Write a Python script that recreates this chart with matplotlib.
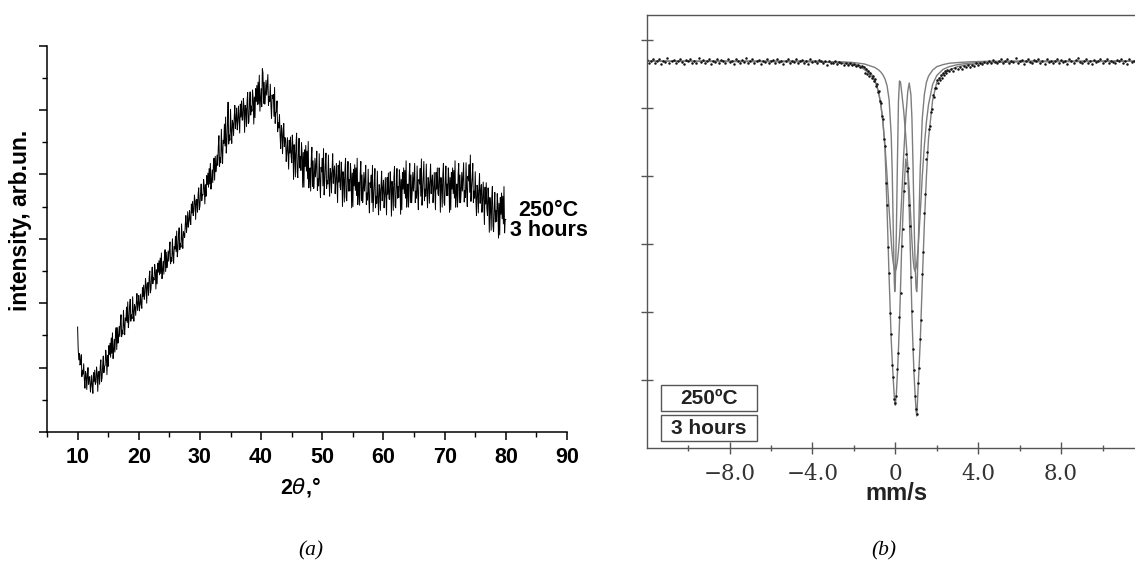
import numpy as np
import matplotlib
matplotlib.use('Agg')
import matplotlib.pyplot as plt
from matplotlib.patches import Rectangle
from matplotlib.ticker import MultipleLocator, FixedLocator

# ---------------- (a) XRD pattern (2theta from 10 to 80, step 0.1) ----------------
two_theta_start = 10.0
two_theta_step = 0.1
xrd_intensity = [
    163, 128, 112, 122, 104, 108, 120, 86, 96, 90,
    106, 82, 68, 94, 90, 66, 86, 100, 74, 84,
    86, 62, 72, 88, 72, 60, 92, 78, 96, 74,
    77, 101, 91, 63, 93, 94, 74, 102, 112, 78,
    84, 104, 118, 92, 102, 103, 127, 117, 89, 119,
    102, 134, 120, 138, 116, 146, 122, 154, 114, 126,
    144, 124, 152, 162, 128, 162, 138, 148, 164, 148,
    170, 182, 148, 158, 152, 189, 165, 151, 177, 173,
    194, 170, 202, 162, 174, 194, 206, 172, 182, 176,
    210, 186, 172, 198, 194, 181, 201, 215, 189, 199,
    212, 188, 198, 214, 198, 192, 224, 210, 228, 206,
    214, 238, 228, 200, 230, 232, 212, 240, 250, 216,
    222, 242, 256, 230, 240, 236, 260, 250, 222, 252,
    230, 262, 248, 266, 244, 270, 246, 278, 238, 250,
    265, 245, 273, 283, 249, 279, 255, 265, 281, 265,
    283, 295, 261, 271, 265, 300, 276, 262, 288, 284,
    304, 280, 312, 272, 284, 305, 317, 283, 293, 287,
    323, 299, 285, 311, 307, 302, 322, 336, 310, 320,
    342, 318, 328, 344, 328, 322, 354, 340, 358, 336,
    344, 368, 358, 330, 360, 361, 341, 369, 379, 345,
    351, 371, 385, 359, 369, 368, 392, 382, 354, 384,
    366, 398, 384, 402, 380, 409, 385, 417, 377, 389,
    407, 387, 415, 425, 391, 428, 404, 414, 430, 414,
    443, 460, 412, 426, 418, 470, 437, 417, 453, 448,
    478, 444, 489, 433, 450, 478, 512, 447, 461, 453,
    501, 468, 448, 484, 479, 460, 488, 507, 471, 485,
    503, 469, 483, 506, 483, 464, 509, 489, 514, 484,
    485, 518, 504, 465, 507, 502, 474, 513, 527, 479,
    481, 509, 528, 492, 506, 498, 531, 517, 478, 520,
    488, 533, 513, 538, 508, 543, 509, 554, 498, 515,
    533, 505, 564, 558, 510, 543, 509, 523, 546, 523,
    538, 555, 507, 521, 513, 540, 507, 487, 523, 518,
    524, 490, 535, 479, 496, 497, 514, 466, 480, 472,
    493, 460, 440, 476, 471, 432, 460, 479, 443, 457,
    454, 420, 434, 457, 434, 408, 453, 433, 458, 428,
    418, 461, 443, 392, 446, 432, 396, 446, 464, 403,
    395, 431, 456, 410, 428, 406, 449, 431, 380, 434,
    380, 438, 412, 445, 405, 436, 393, 451, 379, 400,
    410, 374, 424, 442, 381, 421, 378, 396, 425, 396,
    414, 436, 375, 393, 382, 432, 389, 364, 411, 404,
    425, 382, 440, 368, 389, 416, 433, 378, 390, 385,
    430, 391, 366, 409, 402, 371, 407, 432, 386, 404,
    413, 370, 388, 417, 388, 356, 414, 388, 421, 381,
    376, 419, 401, 350, 404, 393, 357, 407, 425, 364,
    359, 395, 420, 374, 392, 374, 417, 399, 348, 402,
    350, 408, 382, 415, 375, 410, 367, 425, 353, 374,
    388, 352, 402, 420, 359, 399, 356, 374, 403, 374,
    392, 414, 353, 371, 360, 408, 365, 340, 387, 380,
    399, 356, 414, 342, 363, 387, 409, 348, 366, 355,
    405, 362, 337, 384, 377, 344, 380, 405, 359, 377,
    391, 348, 366, 395, 366, 337, 395, 369, 402, 362,
    361, 404, 386, 335, 389, 380, 344, 394, 412, 351,
    348, 384, 409, 363, 381, 364, 407, 389, 338, 392,
    345, 403, 377, 410, 370, 406, 363, 421, 349, 370,
    385, 349, 399, 417, 356, 399, 356, 374, 403, 374,
    395, 417, 356, 374, 363, 413, 370, 345, 392, 385,
    409, 366, 424, 352, 373, 398, 420, 359, 377, 366,
    416, 373, 348, 395, 388, 355, 391, 416, 370, 388,
    399, 356, 374, 403, 374, 345, 403, 377, 410, 370,
    367, 410, 392, 341, 395, 385, 349, 399, 417, 356,
    352, 388, 413, 367, 385, 367, 410, 392, 341, 395,
    345, 403, 377, 410, 370, 406, 363, 421, 349, 370,
    385, 349, 399, 417, 356, 399, 356, 374, 403, 374,
    396, 418, 357, 375, 364, 418, 375, 350, 397, 390,
    415, 372, 430, 358, 379, 395, 417, 356, 374, 363,
    404, 361, 336, 383, 376, 340, 376, 401, 355, 373,
    384, 341, 359, 388, 359, 322, 380, 354, 387, 347,
    336, 379, 361, 310, 364, 349, 313, 363, 381, 320,
    311, 347, 372, 326, 344, 327, 370, 352, 301, 355,
    306, 364, 338, 371, 331, 366, 323, 381, 309, 330,
    330,
]
xrd_xticks = [10, 20, 30, 40, 50, 60, 70, 80, 90]
xrd_xticklabels = ['10', '20', '30', '40', '50', '60', '70', '80', '90']

# ---------------- (b) Moessbauer spectrum ----------------
fit_v = [-12, -4, -3, -2.5, -2, -1.75, -1.5, -1.3, -1.1, -1.0,
         -0.9, -0.8, -0.7, -0.6, -0.5, -0.4, -0.3, -0.2, -0.15, -0.1,
         -0.05, -0.03, 0.0, 0.05, 0.1, 0.15, 0.2, 0.25, 0.3, 0.4,
         0.5, 0.6, 0.67, 0.75, 0.8, 0.85, 0.9, 0.95, 1.0, 1.03,
         1.05, 1.1, 1.2, 1.3, 1.4, 1.5, 1.6, 1.8, 2.0, 2.3,
         2.6, 3.0, 3.5, 4.5, 6, 12]
fit_total = [5.69, 5.68, 5.67, 5.66, 5.63, 5.61, 5.57, 5.52, 5.45, 5.40,
             5.33, 5.22, 5.05, 4.80, 4.40, 3.50, 2.50, 1.60, 1.28, 1.00,
             0.75, 0.68, 0.63, 0.80, 1.10, 1.45, 1.85, 2.35, 2.90, 3.70,
             4.25, 4.05, 3.50, 2.60, 1.95, 1.50, 1.10, 0.80, 0.55, 0.47,
             0.55, 0.90, 1.55, 2.45, 3.30, 4.00, 4.55, 5.12, 5.38, 5.50,
             5.56, 5.61, 5.64, 5.67, 5.68, 5.69]
fit_sub1 = [5.69, 5.69, 5.68, 5.68, 5.67, 5.66, 5.65, 5.63, 5.61, 5.60,
            5.58, 5.56, 5.53, 5.49, 5.43, 5.33, 5.12, 4.60, 4.05, 3.20,
            2.45, 2.30, 2.45, 3.20, 4.20, 5.10, 5.40, 5.38, 5.25, 4.97,
            4.60, 4.15, 3.80, 3.35, 3.05, 2.80, 2.65, 2.60, 2.65, 2.72,
            2.78, 2.95, 3.45, 4.00, 4.45, 4.80, 5.05, 5.35, 5.48, 5.57,
            5.61, 5.64, 5.66, 5.68, 5.69, 5.69]
fit_sub2 = [5.69, 5.69, 5.68, 5.67, 5.65, 5.63, 5.60, 5.55, 5.48, 5.42,
            5.34, 5.22, 5.05, 4.80, 4.45, 4.00, 3.50, 3.05, 2.85, 2.72,
            2.63, 2.60, 2.60, 2.65, 2.75, 2.90, 3.10, 3.35, 3.65, 4.30,
            4.85, 5.25, 5.37, 5.20, 4.85, 4.20, 3.40, 2.75, 2.35, 2.30,
            2.38, 2.90, 4.10, 4.85, 5.20, 5.38, 5.47, 5.56, 5.61, 5.64,
            5.66, 5.67, 5.68, 5.69, 5.69, 5.69]

# measured points: left wing (step 0.1 from -12), centre (step 0.05 from -1.5), right wing (step 0.1 from 2.6)
data_left = [5.71, 5.67, 5.70, 5.73, 5.66, 5.69, 5.72, 5.65, 5.70, 5.68,
             5.74, 5.67, 5.69, 5.71, 5.66, 5.70, 5.73, 5.68, 5.65, 5.71,
             5.69, 5.72, 5.67, 5.70, 5.66, 5.74, 5.68, 5.71, 5.67, 5.69,
             5.72, 5.65, 5.70, 5.68, 5.73, 5.66, 5.71, 5.69, 5.67, 5.72,
             5.68, 5.70, 5.65, 5.73, 5.69, 5.66, 5.71, 5.68, 5.74, 5.67,
             5.70, 5.72, 5.66, 5.69, 5.71, 5.65, 5.70, 5.68, 5.73, 5.67,
             5.69, 5.71, 5.66, 5.72, 5.68, 5.70, 5.65, 5.69, 5.73, 5.67,
             5.70, 5.68, 5.72, 5.66, 5.69, 5.71, 5.67, 5.70, 5.65, 5.72,
             5.68, 5.70, 5.66, 5.71, 5.69, 5.67, 5.70, 5.64, 5.69, 5.67,
             5.66, 5.69, 5.65, 5.68, 5.66, 5.64, 5.67, 5.63, 5.66, 5.64,
             5.65, 5.62, 5.64, 5.61, 5.62]
data_centre = [5.60, 5.52, 5.57, 5.50, 5.54, 5.47, 5.51, 5.44, 5.47, 5.40,
               5.43, 5.33, 5.36, 5.24, 5.25, 5.10, 5.08, 4.88, 4.84, 4.55,
               4.45, 3.90, 3.58, 2.95, 2.58, 1.98, 1.67, 1.22, 1.05, 0.72,
               0.66, 0.76, 1.16, 1.40, 1.92, 2.28, 2.97, 3.22, 3.78, 3.90,
               4.32, 4.08, 4.12, 3.58, 3.26, 2.52, 2.02, 1.45, 1.15, 0.76,
               0.58, 0.50, 0.96, 1.17, 1.61, 1.88, 2.56, 2.88, 3.46, 3.74,
               4.25, 4.36, 4.70, 4.74, 4.95, 4.98, 5.19, 5.17, 5.30, 5.29,
               5.41, 5.37, 5.45, 5.41, 5.49, 5.45, 5.52, 5.48, 5.55, 5.51,
               5.56]
data_right = [5.54, 5.57, 5.55, 5.59, 5.57, 5.60, 5.58, 5.62, 5.60, 5.63,
              5.61, 5.64, 5.62, 5.66, 5.63, 5.67, 5.65, 5.68, 5.66, 5.70,
              5.67, 5.71, 5.68, 5.66, 5.70, 5.73, 5.67, 5.69, 5.72, 5.66,
              5.70, 5.68, 5.74, 5.67, 5.69, 5.71, 5.65, 5.70, 5.72, 5.68,
              5.66, 5.71, 5.69, 5.73, 5.67, 5.70, 5.65, 5.72, 5.68, 5.70,
              5.66, 5.69, 5.73, 5.67, 5.71, 5.68, 5.70, 5.65, 5.72, 5.69,
              5.67, 5.71, 5.74, 5.68, 5.66, 5.70, 5.72, 5.67, 5.69, 5.65,
              5.71, 5.68, 5.70, 5.73, 5.66, 5.69, 5.72, 5.67, 5.70, 5.68,
              5.66, 5.71, 5.69, 5.73, 5.67, 5.70, 5.65, 5.72, 5.68, 5.70,
              5.67, 5.71, 5.69, 5.66, 5.70]
moss_xticks = [-8, -4, 0, 4, 8]
moss_xticklabels = ['\u22128.0', '\u22124.0', '0', '4.0', '8.0']
moss_xminor = [-10, -6, -2, 2, 6, 10]
moss_yticks = [1, 2, 3, 4, 5, 6]

# ---------------------------------------------------------------
W, H = 1135, 570
fig = plt.figure(figsize=(W / 100, H / 100), dpi=100)
fig.patch.set_facecolor('white')
SANS = 'Liberation Sans'

# ----- panel (a) -----
ax1 = fig.add_axes([47 / W, 1 - 432 / H, (567 - 47) / W, (432 - 45.5) / H])
two_theta = two_theta_start + two_theta_step * np.arange(len(xrd_intensity))
ax1.plot(two_theta, xrd_intensity, color='black', lw=0.7)
ax1.set_xlim(5, 90)
ax1.set_ylim(0, 600)
ax1.spines['top'].set_visible(False)
ax1.spines['right'].set_visible(False)
for s in ('left', 'bottom'):
    ax1.spines[s].set_linewidth(1.1)
ax1.set_xticks(xrd_xticks)
ax1.set_xticklabels(xrd_xticklabels, fontsize=15.5, fontweight='bold', family=SANS)
ax1.xaxis.set_minor_locator(MultipleLocator(5))
ax1.yaxis.set_major_locator(MultipleLocator(100))
ax1.yaxis.set_minor_locator(MultipleLocator(50))
ax1.tick_params(axis='both', which='major', direction='out', length=5.5, width=1.1, pad=5)
ax1.tick_params(axis='both', which='minor', direction='out', length=3.5, width=1.0)
ax1.tick_params(axis='y', labelleft=False)
ax1.text(87, 328, '250\u00b0C\n3 hours', ha='center', va='center', fontsize=15.5,
         fontweight='bold', family=SANS, linespacing=0.95)
fig.text(20 / W, 1 - 220 / H, 'intensity, arb.un.', rotation=90, ha='center', va='center',
         fontsize=16.5, fontweight='bold', family=SANS)
fig.text(300 / W, 1 - 487 / H, '2$\\it{\\theta}$,\u00b0', ha='center', va='center',
         fontsize=15.5, fontweight='bold', family=SANS)

# ----- panel (b) -----
ax2 = fig.add_axes([646.7 / W, 1 - 448 / H, (1144 - 646.7) / W, (448 - 15) / H])
GRAY = '#555555'
for s in ax2.spines.values():
    s.set_color(GRAY)
    s.set_linewidth(1.0)
for curve in (fit_total, fit_sub1, fit_sub2):
    ax2.plot(fit_v, curve, color='#7d7d7d', lw=1.0)
v_left = -12.0 + 0.1 * np.arange(len(data_left))
v_centre = -1.5 + 0.05 * np.arange(len(data_centre))
v_right = 2.6 + 0.1 * np.arange(len(data_right))
for vv, yy in ((v_left, data_left), (v_centre, data_centre), (v_right, data_right)):
    ax2.plot(vv, yy, linestyle='none', marker='o', ms=1.8, mew=0, color='#111111')
ax2.set_xlim(-12, 12)
ax2.set_ylim(0, 6.37)
ax2.xaxis.set_major_locator(FixedLocator(moss_xticks))
ax2.set_xticklabels(moss_xticklabels, fontsize=15.5, family='DejaVu Serif', color='#333333')
ax2.xaxis.set_minor_locator(FixedLocator(moss_xminor))
ax2.yaxis.set_major_locator(FixedLocator(moss_yticks))
ax2.tick_params(axis='both', which='major', direction='inout', length=8, width=1.0,
                color=GRAY, pad=6.5)
ax2.tick_params(axis='both', which='minor', direction='inout', length=5, width=1.0, color=GRAY)
ax2.tick_params(axis='y', labelleft=False)
fig.text(896 / W, 1 - 494 / H, 'mm/s', ha='center', va='center', fontsize=17,
         fontweight='bold', family=SANS, color='#222222')

for (y0, txt) in ((385, '250\u00baC'), (415, '3 hours')):
    fig.patches.append(Rectangle((661 / W, 1 - (y0 + 26) / H), 96 / W, 26 / H,
                                 transform=fig.transFigure, fill=False,
                                 edgecolor=GRAY, lw=1.0))
    fig.text(709 / W, 1 - (y0 + 13.5) / H, txt, ha='center', va='center', fontsize=15,
             fontweight='bold', family=SANS, color='#222222')

# panel captions
fig.text(311 / W, 1 - 551 / H, '(a)', ha='center', va='center', fontsize=15.5,
         style='italic', family='Liberation Serif')
fig.text(884 / W, 1 - 551 / H, '(b)', ha='center', va='center', fontsize=15.5,
         style='italic', family='Liberation Serif')

fig.savefig('out.png', dpi=100)
